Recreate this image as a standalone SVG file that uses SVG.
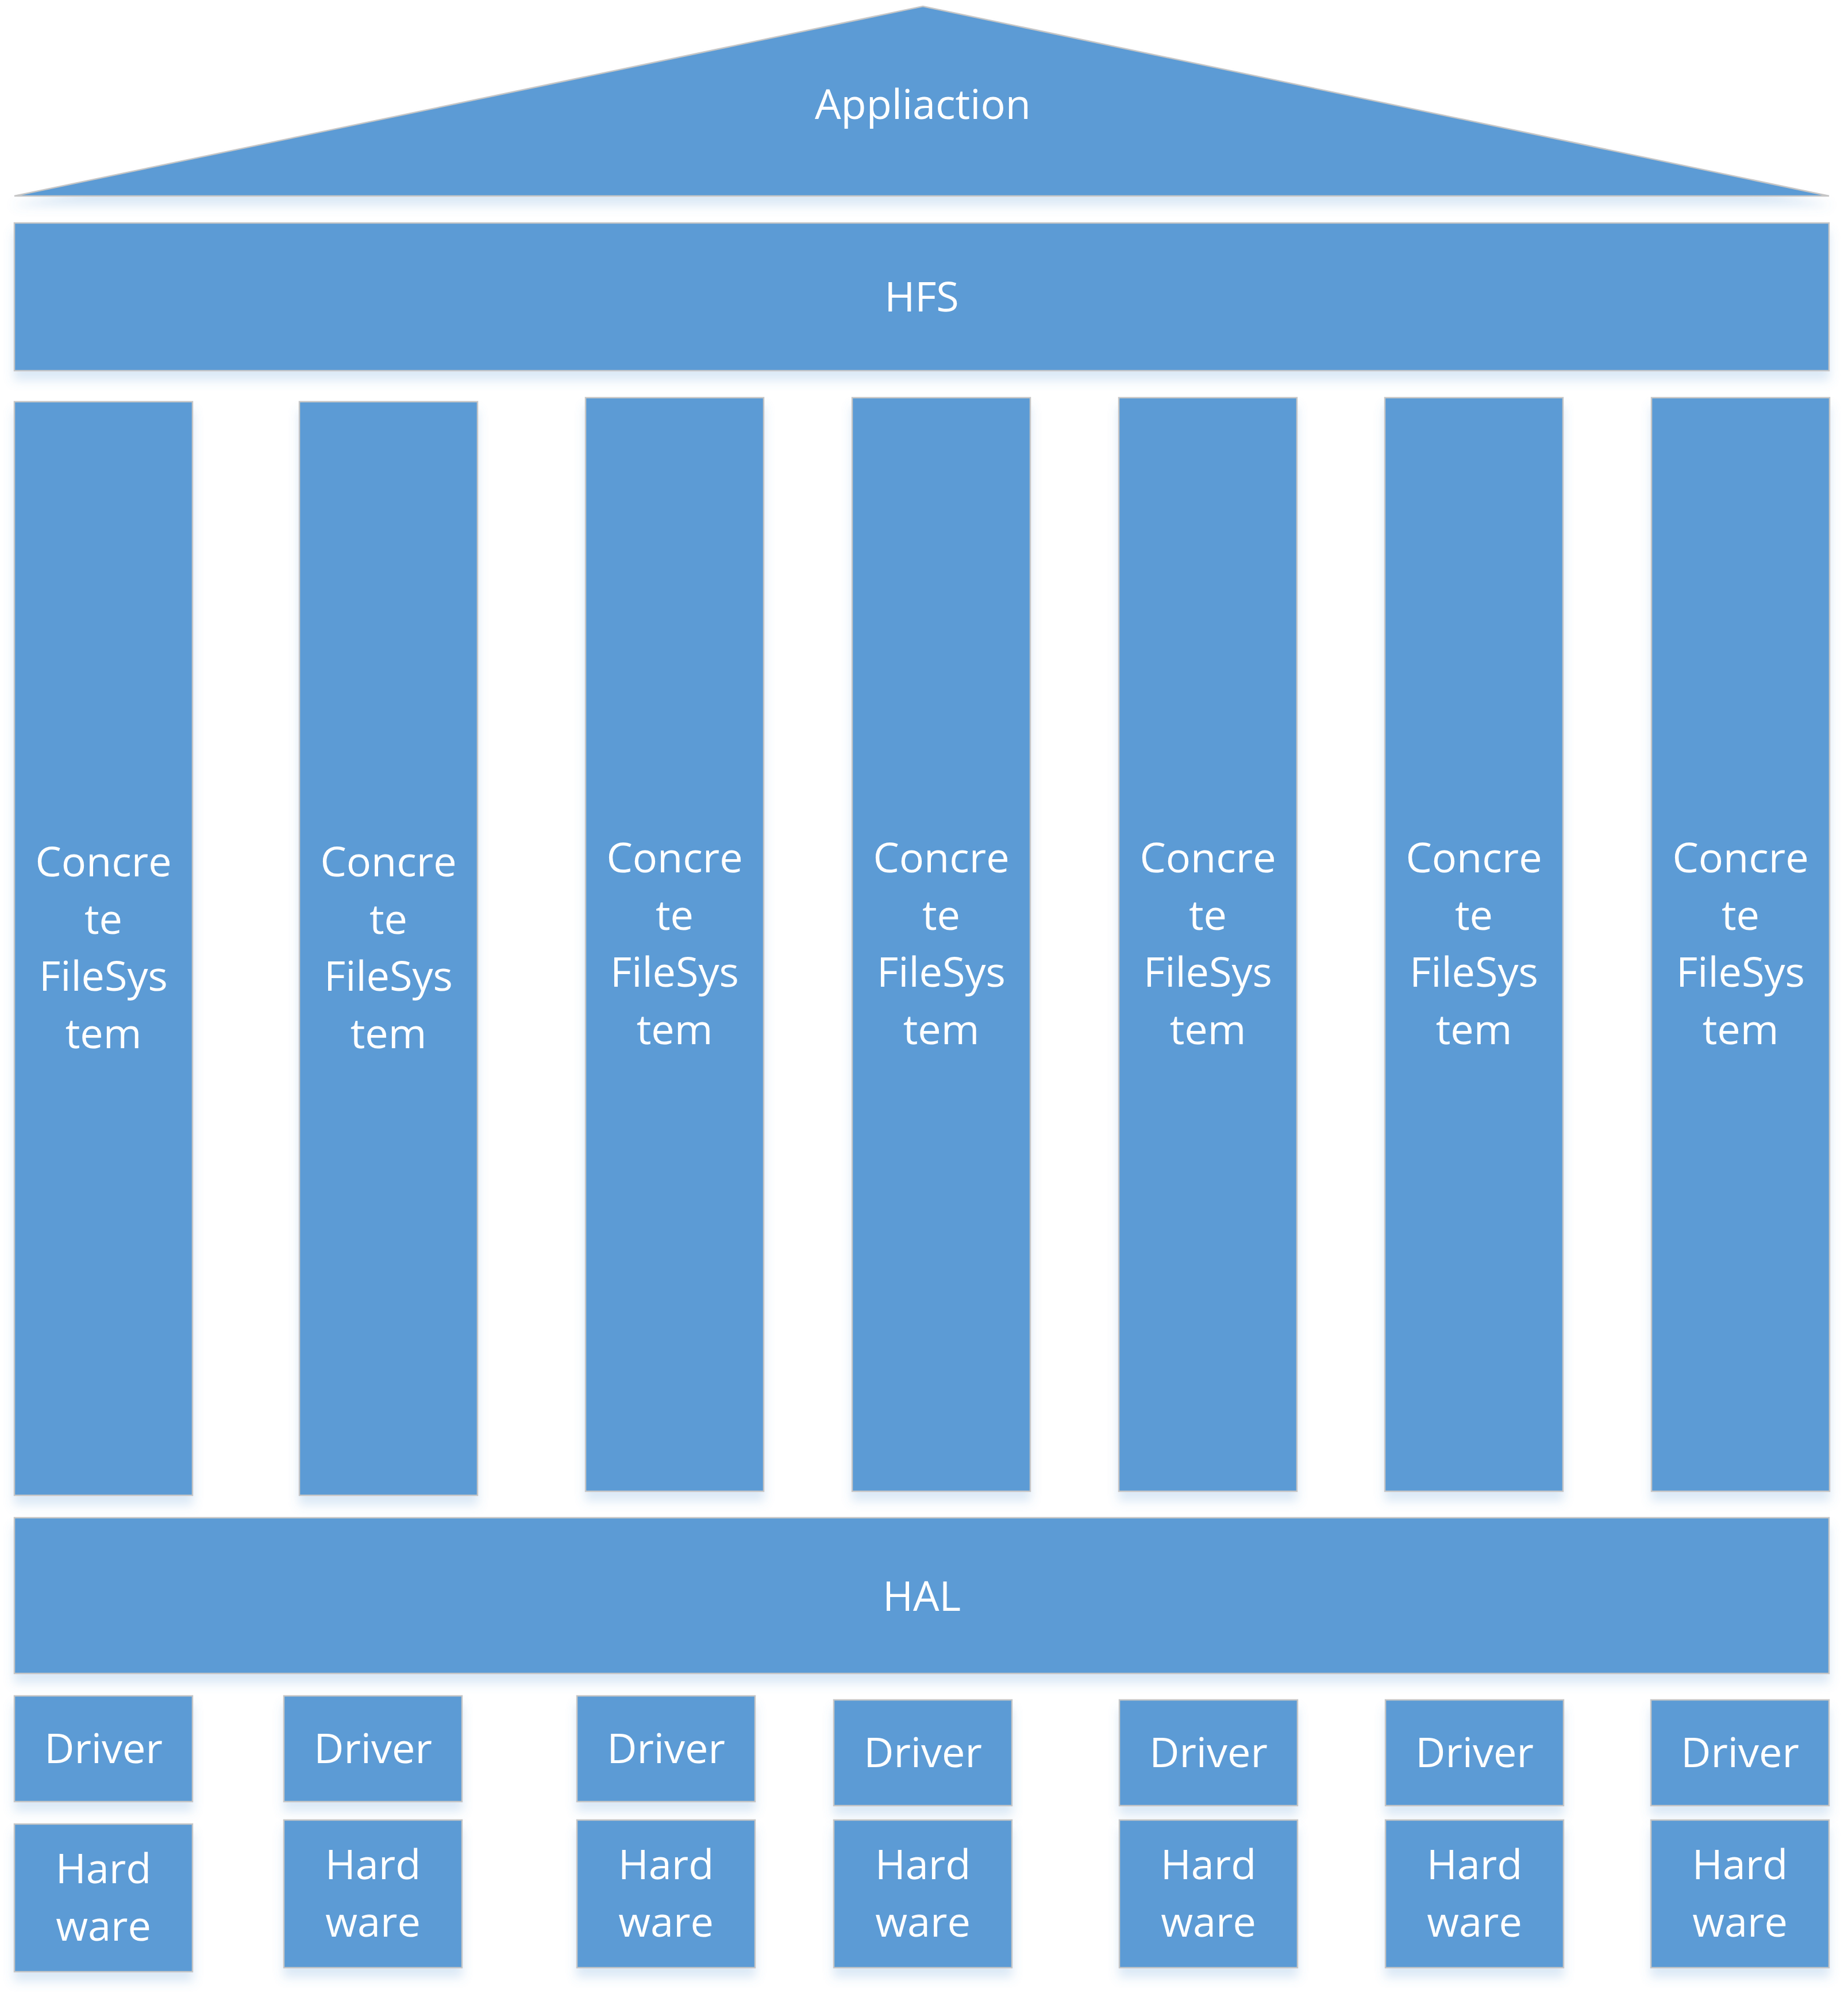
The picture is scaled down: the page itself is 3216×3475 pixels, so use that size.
<svg xmlns="http://www.w3.org/2000/svg" width="3216" height="3475" viewBox="0 0 3216 3475">
<defs>
<filter id="sh" x="-10%" y="-10%" width="120%" height="140%">
<feDropShadow dx="0" dy="16" stdDeviation="9" flood-color="#5B9BD5" flood-opacity="0.22"/>
</filter>
<style>
.box{fill:#5B9BD5;stroke:#c6c6c6;stroke-width:2.5;filter:url(#sh)}
.t{fill:#ffffff;font-family:"Open Sans","Noto Sans","DejaVu Sans",sans-serif;font-size:72px;text-anchor:middle}
</style>
</defs>
<rect width="3216" height="3475" fill="#ffffff"/>
<g id="connectors"/>
<g id="application">
<polygon class="box" points="1606,11 3183,341 25,341"/>
<text class="t" x="1606" y="207">Appliaction</text>
</g>
<g id="hfs">
<rect class="box" x="25" y="388" width="3158" height="257"/>
<text class="t" x="1604" y="542">HFS</text>
</g>
<g id="fs1">
<rect class="box" x="25" y="699" width="310" height="1903"/>
<text class="t" x="180" y="1525">Concre</text><text class="t" x="180" y="1625">te</text><text class="t" x="180" y="1724">FileSys</text><text class="t" x="180" y="1824">tem</text>
</g>
<g id="fs2">
<rect class="box" x="521" y="699" width="310" height="1903"/>
<text class="t" x="676" y="1525">Concre</text><text class="t" x="676" y="1625">te</text><text class="t" x="676" y="1724">FileSys</text><text class="t" x="676" y="1824">tem</text>
</g>
<g id="fs3">
<rect class="box" x="1019" y="692" width="310" height="1903"/>
<text class="t" x="1174" y="1518">Concre</text><text class="t" x="1174" y="1618">te</text><text class="t" x="1174" y="1717">FileSys</text><text class="t" x="1174" y="1817">tem</text>
</g>
<g id="fs4">
<rect class="box" x="1483" y="692" width="310" height="1903"/>
<text class="t" x="1638" y="1518">Concre</text><text class="t" x="1638" y="1618">te</text><text class="t" x="1638" y="1717">FileSys</text><text class="t" x="1638" y="1817">tem</text>
</g>
<g id="fs5">
<rect class="box" x="1947" y="692" width="310" height="1903"/>
<text class="t" x="2102" y="1518">Concre</text><text class="t" x="2102" y="1618">te</text><text class="t" x="2102" y="1717">FileSys</text><text class="t" x="2102" y="1817">tem</text>
</g>
<g id="fs6">
<rect class="box" x="2410" y="692" width="310" height="1903"/>
<text class="t" x="2565" y="1518">Concre</text><text class="t" x="2565" y="1618">te</text><text class="t" x="2565" y="1717">FileSys</text><text class="t" x="2565" y="1817">tem</text>
</g>
<g id="fs7">
<rect class="box" x="2874" y="692" width="310" height="1903"/>
<text class="t" x="3029" y="1518">Concre</text><text class="t" x="3029" y="1618">te</text><text class="t" x="3029" y="1717">FileSys</text><text class="t" x="3029" y="1817">tem</text>
</g>
<g id="hal">
<rect class="box" x="25" y="2641" width="3158" height="271"/>
<text class="t" x="1604" y="2803">HAL</text>
</g>
<g id="driver1"><rect class="box" x="25" y="2951" width="310" height="184"/><text class="t" x="180" y="3068">Driver</text></g>
<g id="driver2"><rect class="box" x="494" y="2951" width="310" height="184"/><text class="t" x="649" y="3068">Driver</text></g>
<g id="driver3"><rect class="box" x="1004" y="2951" width="310" height="184"/><text class="t" x="1159" y="3068">Driver</text></g>
<g id="driver4"><rect class="box" x="1451" y="2958" width="310" height="184"/><text class="t" x="1606" y="3075">Driver</text></g>
<g id="driver5"><rect class="box" x="1948" y="2958" width="310" height="184"/><text class="t" x="2103" y="3075">Driver</text></g>
<g id="driver6"><rect class="box" x="2411" y="2958" width="310" height="184"/><text class="t" x="2566" y="3075">Driver</text></g>
<g id="driver7"><rect class="box" x="2873" y="2958" width="310" height="184"/><text class="t" x="3028" y="3075">Driver</text></g>
<g id="hw1"><rect class="box" x="25" y="3174" width="310" height="257"/><text class="t" x="180" y="3277">Hard</text><text class="t" x="180" y="3377">ware</text></g>
<g id="hw2"><rect class="box" x="494" y="3167" width="310" height="257"/><text class="t" x="649" y="3270">Hard</text><text class="t" x="649" y="3370">ware</text></g>
<g id="hw3"><rect class="box" x="1004" y="3167" width="310" height="257"/><text class="t" x="1159" y="3270">Hard</text><text class="t" x="1159" y="3370">ware</text></g>
<g id="hw4"><rect class="box" x="1451" y="3167" width="310" height="257"/><text class="t" x="1606" y="3270">Hard</text><text class="t" x="1606" y="3370">ware</text></g>
<g id="hw5"><rect class="box" x="1948" y="3167" width="310" height="257"/><text class="t" x="2103" y="3270">Hard</text><text class="t" x="2103" y="3370">ware</text></g>
<g id="hw6"><rect class="box" x="2411" y="3167" width="310" height="257"/><text class="t" x="2566" y="3270">Hard</text><text class="t" x="2566" y="3370">ware</text></g>
<g id="hw7"><rect class="box" x="2873" y="3167" width="310" height="257"/><text class="t" x="3028" y="3270">Hard</text><text class="t" x="3028" y="3370">ware</text></g>
</svg>
